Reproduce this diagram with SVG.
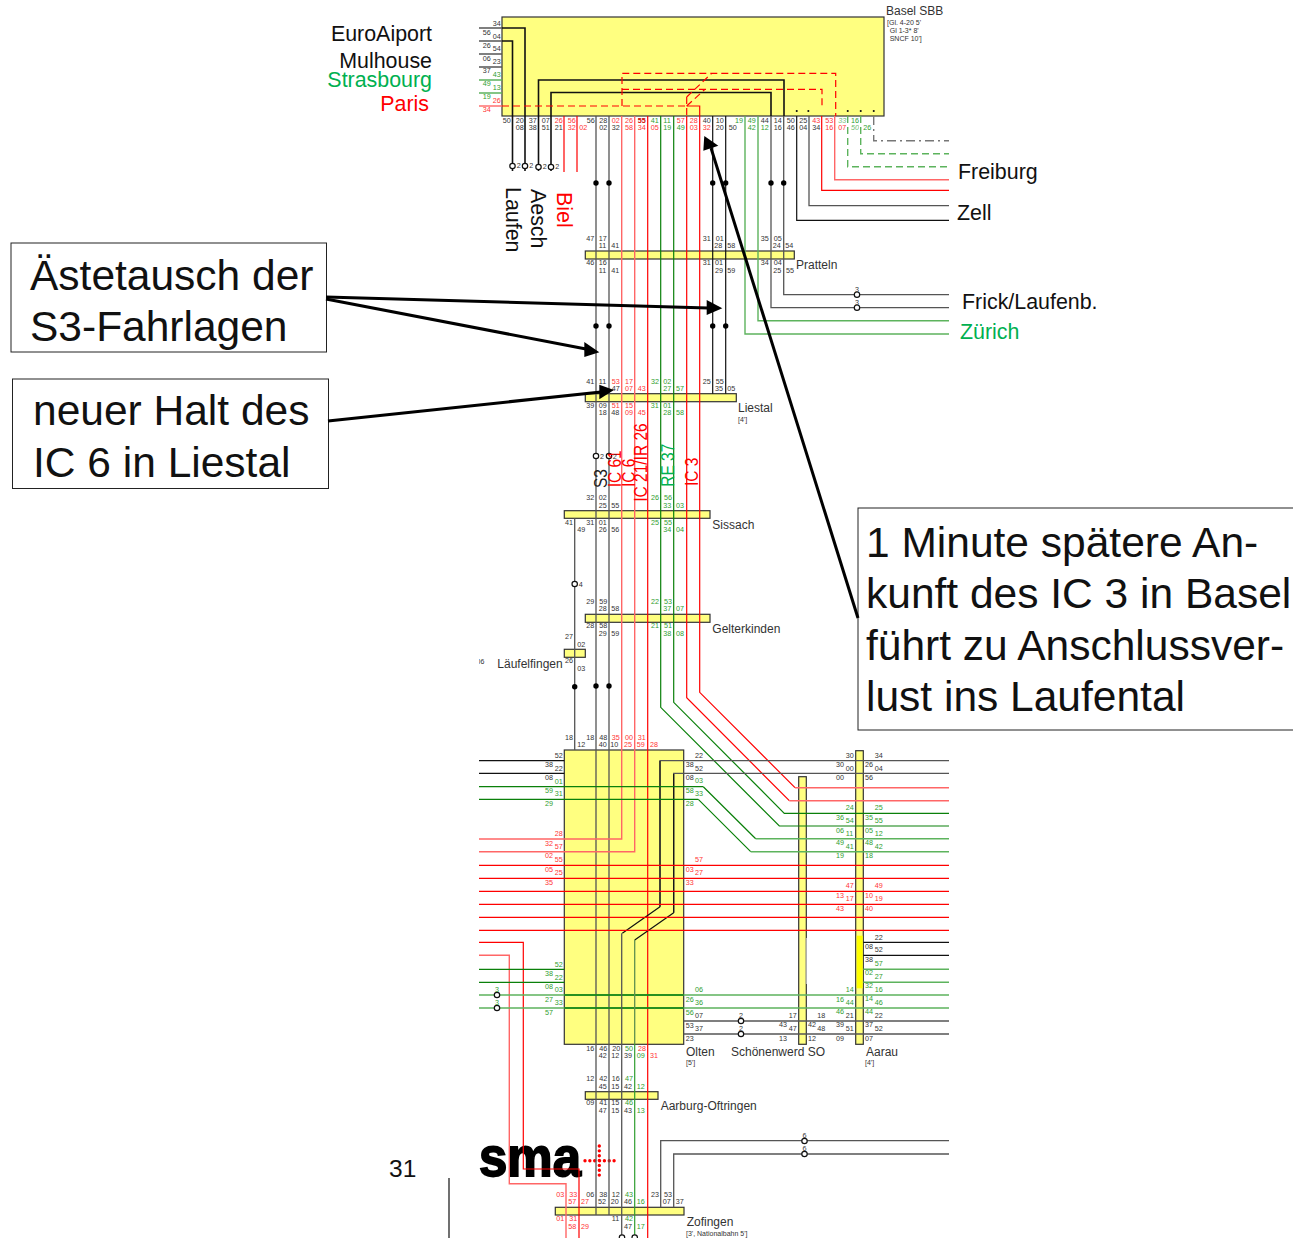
<svg xmlns="http://www.w3.org/2000/svg" width="1293" height="1238" viewBox="0 0 1293 1238">
<style>
text{font-family:"Liberation Sans",Arial,sans-serif}
.bar{fill:#ffff80;stroke:#333;stroke-width:1.2}
.st{font-size:12px;fill:#333}
.sm{font-size:7px;fill:#333}
.big{font-size:42.5px;fill:#111}
.lab{font-size:21.4px;fill:#111}
.rot{font-size:15.5px}
.call{fill:#fff;stroke:#222;stroke-width:1}
path{fill:none;stroke-width:1.2}
.k{stroke:#111}
.y{stroke:#555;stroke-width:1.3}
.r{stroke:#f00}
.rl{stroke:#ff6666;stroke-width:1.4}
.v{stroke:#0a800a}
.vl{stroke:#5db35d;stroke-width:1.4}
.rd{stroke:#f00;stroke-dasharray:7 4}
.vd{stroke:#5db35d;stroke-width:1.4;stroke-dasharray:7 4}
.yd{stroke:#777;stroke-width:1.4;stroke-dasharray:9 4 2 4}
.o{fill:#fff;stroke:#111;stroke-width:1.2}
.a{stroke:#000;stroke-width:3}
.h{fill:#000;stroke:none}
.n text{font-size:7.2px}
</style>
<defs>
<clipPath id="c06"><rect x="479" y="650" width="30" height="20"/></clipPath>
<circle id="ring" r="2.7" class="o"/>
<circle id="dot" r="2.7" fill="#000"/>
</defs>
<g id="basel"><rect class="bar" x="502" y="17" width="382" height="99"/><text class="st" x="886" y="15">Basel SBB</text><text class="sm" x="887" y="25">[Gl. 4-20 5'</text><text class="sm" x="889.7" y="33">Gl 1-3* 8'</text><text class="sm" x="889.7" y="41">SNCF 10']</text></g>
<g id="pratteln"><rect class="bar" x="585.3" y="251" width="209" height="8"/><text class="st" x="796" y="269.3">Pratteln</text></g>
<g id="liestal"><rect class="bar" x="585.3" y="393.7" width="151" height="8"/><text class="st" x="738" y="412.3">Liestal</text><text class="sm" x="738" y="422.3">[4']</text></g>
<g id="sissach"><rect class="bar" x="564.3" y="510.7" width="145.7" height="7.6"/><text class="st" x="712.3" y="529">Sissach</text></g>
<g id="gelterkinden"><rect class="bar" x="585.3" y="614.3" width="124.7" height="8"/><text class="st" x="712.3" y="632.7">Gelterkinden</text></g>
<g id="laeufelfingen"><rect class="bar" x="564.3" y="649.3" width="21" height="8"/><text class="st" x="497.3" y="668.3">Läufelfingen</text><text class="sm" clip-path="url(#c06)" x="476.5" y="664">06</text></g>
<g id="olten"><rect class="bar" x="564.3" y="750" width="119.4" height="294.3"/><text class="st" x="686" y="1055.7">Olten</text><text class="sm" x="686" y="1065">[5']</text></g>
<g id="schoenenwerd"><rect class="bar" x="798.7" y="776.7" width="7.6" height="267.6"/><path d="M806.3 938V984" style="stroke:#bbb;stroke-width:1.2"/><text class="st" x="731" y="1055.7">Schönenwerd SO</text></g>
<g id="aarau"><rect class="bar" x="855.7" y="750.7" width="7.6" height="293.6"/><rect x="856.7" y="935.7" width="6" height="52.6" fill="#ffff00"/><text class="st" x="866" y="1055.7">Aarau</text><text class="sm" x="865" y="1065">[4']</text></g>
<g id="aarburg"><rect class="bar" x="585.3" y="1091.7" width="72.7" height="7.6"/><text class="st" x="660.7" y="1110">Aarburg-Oftringen</text></g>
<g id="zofingen"><rect class="bar" x="555.3" y="1207.3" width="128.7" height="7.7"/><text class="st" x="686.7" y="1225.7">Zofingen</text><text class="sm" x="686" y="1235.7">[3', Nationalbahn 5']</text></g>
<g id="logo"><text x="479" y="1175.5" font-size="56" font-weight="700" fill="#000" stroke="#000" stroke-width="1.8" textLength="102" lengthAdjust="spacingAndGlyphs">sma</text><path d="M585 1160.7H615M599.3 1146V1176" style="stroke:#f00;stroke-width:3.4;stroke-linecap:round;stroke-dasharray:0 4.85"/></g>
<g id="labels">
<text class="lab" text-anchor="end" x="432" y="41">EuroAiport</text>
<text class="lab" text-anchor="end" x="432" y="68">Mulhouse</text>
<text class="lab" text-anchor="end" x="432" y="87" style="fill:#00b050">Strasbourg</text>
<text class="lab" text-anchor="end" x="429" y="111" style="fill:#f00">Paris</text>
<text class="lab" x="958" y="179">Freiburg</text>
<text class="lab" x="957" y="220">Zell</text>
<text class="lab" x="962" y="309">Frick/Laufenb.</text>
<text class="lab" x="960" y="339" style="fill:#00b050">Zürich</text>
<text class="lab" transform="translate(506 187) rotate(90)">Laufen</text>
<text class="lab" transform="translate(531 189) rotate(90)">Aesch</text>
<text class="lab" transform="translate(556.7 192) rotate(90)" style="fill:#f00">Biel</text>
<text x="389" y="1177" font-size="24.5" fill="#111">31</text>
</g>
<path d="M449 1178V1238" class="k"/>
<g id="connectors">
<path class="y" d="M479 28H502M479 41H502M479 54H502M479 67H502"/>
<path class="vl" d="M479 80H502M479 93H502"/>
<path class="rl" d="M479 106H502"/>
<path class="k" style="stroke-width:1.6" d="M502 28H525V171M502 41H512.5V171M538.5 171V80H784V116M551 171V92.5H771V116"/>
<path class="rd" d="M502 106H686.7M622 106V73.3H835.7V116M622 89.3H822V109M686.7 106L705 89.3M686.7 97L711.7 73.3M686.7 97V116"/>
<path class="r" d="M686.7 106H699.7V116"/>
<path d="M796.7 111h.1M808.3 111h.1M847.7 111h.1M860.7 111h.1M873.7 111h.1" style="stroke:#111;stroke-width:2;stroke-linecap:round"/>
<path class="r" d="M564 116V172M577 116V172"/>
<path class="y" d="M596 116V1215M609 116V1215M574.7 518V750"/>
<path class="k" d="M712.7 116V393.7M725.7 116V393.7"/>
<path class="rl" d="M621.7 116V839H479M634.7 116V851.7H479"/>
<path class="r" d="M647.7 116V1238"/>
<path class="v" d="M660.7 116V707.3L779.3 826H949M673.7 116V702.3L784.3 813.3H949"/>
<path class="r" d="M686.7 116V697.7L789.3 800.7"/>
<path class="r" d="M699.7 116V692.3L795 787.7"/>
<path class="rl" d="M789.3 800.7H949M795 787.7H949"/>
<path class="vl" d="M745 116V334H949M758 116V320.7H949"/>
<path class="y" d="M771 116V307.7H949M783.7 116V294.7H949"/>
<path class="k" d="M796.7 116V220.3H949"/>
<path class="y" d="M809 116V205.7H949"/>
<path class="r" d="M821.7 116V190.3H949"/>
<path class="rl" d="M834.7 116V179.7H949"/>
<path class="vd" d="M847.7 116V166.7H949M860.7 116V153.7H949"/>
<path class="yd" d="M873.7 116V140.7H949"/>
<path class="k" style="stroke-width:1.3" d="M479 760.7H564.3M479 773.3H564.3"/>
<path class="y" d="M949 760.7H660V906.7"/>
<path class="y" d="M949 773.3H673.7V912.7"/>
<path class="k" d="M660 906.7L622.3 933.3M673.7 912.7L634.7 940M660 850V906.7M673.7 850V912.7M660 761V850M673.7 774V850"/>
<path class="v" d="M479 786.7H703.3M479 799.3H698.3"/>
<path class="v" d="M703.3 786.7L755.7 838.7M698.3 799.3L750.7 851.7"/>
<path class="vl" d="M755.7 838.7H949M750.7 851.7H949"/>
<path class="r" d="M479 865.3H949M479 878.3H949M479 891.3H949M479 904.3H949M479 917.3H949M479 930.3H949"/>
<path class="r" d="M479 942.3H523.3V1169H579V1238"/>
<path class="rl" d="M479 955.3H509.3V1183.7H566V1238"/>
<path class="v" d="M479 969.3H564.3M479 982.3H564.3"/>
<path class="k" d="M863.3 942.3H949M863.3 955.3H949"/>
<path class="vl" d="M863.3 969.3H949M863.3 982.3H949"/>
<path class="vl" d="M479 995H949M479 1008H949"/>
<path class="v" style="stroke-width:1.6" d="M564.3 995H683.7M564.3 1008H683.7"/>
<path class="y" d="M683.7 1021H949M683.7 1034H949"/>
<path class="y" d="M621.7 933.3V1238"/>
<path style="stroke:#5f8f4f;stroke-width:1.3" d="M634.7 940V1044"/>
<path class="v" style="stroke:#2f9e2f" d="M634.7 1044V1238"/>
<path class="y" d="M660.7 1207.3V1140.7H949M673.7 1207.3V1154H949"/>
<use href="#ring" x="512.5" y="166"/><use href="#ring" x="525" y="166"/><use href="#ring" x="538.5" y="167"/><use href="#ring" x="551" y="167"/>
<use href="#dot" x="596" y="183"/><use href="#dot" x="609" y="183"/><use href="#dot" x="712.7" y="183"/><use href="#dot" x="725.7" y="183"/><use href="#dot" x="771" y="183"/><use href="#dot" x="783.7" y="183"/>
<use href="#dot" x="596" y="326"/><use href="#dot" x="609" y="326"/><use href="#dot" x="712.7" y="326"/><use href="#dot" x="725.7" y="326"/>
<use href="#ring" x="596" y="456"/><use href="#ring" x="609" y="456"/>
<use href="#ring" x="857" y="294.7"/><use href="#ring" x="857" y="307.7"/>
<use href="#ring" x="574.7" y="584"/>
<use href="#dot" x="574.7" y="686.7"/><use href="#dot" x="596" y="686"/><use href="#dot" x="609" y="686"/>
<use href="#ring" x="497" y="995"/><use href="#ring" x="497" y="1008"/>
<use href="#ring" x="741" y="1021"/><use href="#ring" x="741" y="1034"/>
<use href="#ring" x="804.5" y="1141"/><use href="#ring" x="804.5" y="1154"/>
<use href="#ring" x="622" y="1237.5"/><use href="#ring" x="634.7" y="1237.5"/>
</g>
<g id="train-labels">
<text class="rot" transform="translate(606.7 488) rotate(-90) scale(1 1.15)" fill="#222">S3</text>
<text class="rot" transform="translate(621 487.3) rotate(-90) scale(1 1.15)" fill="#f00">IC 61</text>
<text class="rot" transform="translate(635 487) rotate(-90) scale(1 1.15)" fill="#f00">IC 6</text>
<text class="rot" transform="translate(647.3 501.7) rotate(-90) scale(1 1.15)" fill="#f00">IC 21/IR 26</text>
<text class="rot" transform="translate(674 486.7) rotate(-90) scale(1 1.15)" fill="#00b050">RE 37</text>
<text class="rot" transform="translate(698 486) rotate(-90) scale(1 1.15)" fill="#f00">IC 3</text>
</g>
<g class="n" id="num-black" fill="#333">
<text x="492.7" y="25.7">34</text><text x="482.7" y="35">56</text><text x="492.7" y="38.5">04</text><text x="482.7" y="47.5">26</text><text x="492.7" y="51">54</text><text x="482.7" y="60.5">06</text><text x="492.7" y="64">23</text><text x="482.7" y="73">37</text>
<text x="502.7" y="122.7">50</text><text x="515.7" y="122.7">20</text><text x="528.7" y="122.7">37</text><text x="541.7" y="122.7">07</text><text x="586.7" y="122.7">56</text><text x="599.3" y="122.7">28</text><text x="702.7" y="122.7">40</text><text x="715.7" y="122.7">10</text><text x="760.7" y="122.7">44</text><text x="773.7" y="122.7">14</text><text x="786.7" y="122.7">50</text><text x="799.3" y="122.7">25</text>
<text x="515.7" y="129.7">08</text><text x="528.7" y="129.7">38</text><text x="541.7" y="129.7">51</text><text x="554.7" y="129.7">21</text><text x="599.3" y="129.7">02</text><text x="611.7" y="129.7">32</text><text x="715.7" y="129.7">20</text><text x="728.7" y="129.7">50</text><text x="773.7" y="129.7">16</text><text x="786.7" y="129.7">46</text><text x="799.3" y="129.7">04</text><text x="812.3" y="129.7">34</text>
<text x="516.7" y="167.7">2</text><text x="529.3" y="167.7">2</text><text x="542.7" y="168.7">2</text><text x="555.3" y="168.7">2</text>
<text x="586.3" y="241">47</text><text x="598.7" y="241">17</text><text x="702.7" y="241">31</text><text x="715.7" y="241">01</text><text x="760.7" y="241">35</text><text x="773.7" y="241">05</text>
<text x="598.7" y="248">11</text><text x="611.3" y="248">41</text><text x="714.3" y="248">28</text><text x="727.3" y="248">58</text><text x="772.7" y="248">24</text><text x="785.3" y="248">54</text>
<text x="586.3" y="265">46</text><text x="598.7" y="265">16</text><text x="702.7" y="265">31</text><text x="715" y="265">01</text><text x="760.7" y="265">34</text><text x="773.7" y="265">04</text>
<text x="598.7" y="272.7">11</text><text x="611.3" y="272.7">41</text><text x="715" y="272.7">29</text><text x="727.3" y="272.7">59</text><text x="773.3" y="272.7">25</text><text x="786" y="272.7">55</text>
<text x="855" y="291.5">3</text><text x="855" y="304.5">3</text>
<text x="586.3" y="383.7">41</text><text x="598.7" y="383.7">11</text><text x="702.7" y="383.7">25</text><text x="715.7" y="383.7">55</text>
<text x="611.7" y="390.7">47</text><text x="715" y="390.7">35</text><text x="727.3" y="390.7">05</text>
<text x="586.3" y="407.7">39</text><text x="598.7" y="407.7">09</text><text x="598.7" y="415">18</text><text x="611.3" y="415">48</text>
<text x="600" y="458.5">2</text><text x="612.7" y="458.5">2</text>
<text x="586.3" y="500.3">32</text><text x="598.7" y="500.3">02</text><text x="598.7" y="507.7">25</text><text x="611.3" y="507.7">55</text>
<text x="565" y="524.7">41</text><text x="586.3" y="524.7">31</text><text x="598.7" y="524.7">01</text><text x="577.3" y="532">49</text><text x="598.7" y="532">26</text><text x="611.3" y="532">56</text>
<text x="578.7" y="586.5">4</text>
<text x="586.3" y="604">29</text><text x="599.3" y="604">59</text><text x="598.7" y="611.3">28</text><text x="611.3" y="611.3">58</text>
<text x="586.3" y="628.3">28</text><text x="599.3" y="628.3">58</text><text x="598.7" y="635.7">29</text><text x="611.3" y="635.7">59</text>
<text x="565" y="639.3">27</text><text x="577.3" y="646.7">02</text><text x="565" y="663.3">26</text><text x="577.3" y="671">03</text>
<text x="565" y="740">18</text><text x="586.3" y="740">18</text><text x="599.3" y="740">48</text><text x="577.3" y="747.3">12</text><text x="598.7" y="747.3">40</text><text x="610.3" y="747.3">10</text>
<text x="554.7" y="757.7">52</text><text x="545" y="767.3">38</text><text x="554.7" y="770.7">22</text><text x="545" y="780">08</text>
<text x="695" y="757.7">22</text><text x="685.7" y="767.3">38</text><text x="695" y="770.7">52</text><text x="685.7" y="780.3">08</text>
<text x="845.7" y="757.7">30</text><text x="836" y="767.3">30</text><text x="845.7" y="771">00</text><text x="836" y="780.3">00</text>
<text x="874.7" y="757.7">34</text><text x="865" y="767.3">26</text><text x="874.7" y="771">04</text><text x="865" y="780.3">56</text>
<text x="874.7" y="939.7">22</text><text x="865" y="949">08</text><text x="874.7" y="952.3">52</text><text x="865" y="961.7">38</text>
<text x="695" y="1018">07</text><text x="685.7" y="1027.7">53</text><text x="695" y="1031">37</text><text x="685.7" y="1040.7">23</text>
<text x="739" y="1018">2</text><text x="739" y="1031">2</text>
<text x="788.7" y="1018">17</text><text x="779" y="1027">43</text><text x="788.7" y="1031">47</text><text x="779" y="1040.7">13</text>
<text x="817.3" y="1018">18</text><text x="808" y="1027">42</text><text x="817.3" y="1031">48</text><text x="808" y="1040.7">12</text>
<text x="845.7" y="1017.7">21</text><text x="836" y="1027">39</text><text x="845.7" y="1031">51</text><text x="836" y="1040.7">09</text>
<text x="874.7" y="1017.7">22</text><text x="865" y="1027">37</text><text x="874.7" y="1030.7">52</text><text x="865" y="1040.7">07</text>
<text x="586.3" y="1050.7">16</text><text x="599.3" y="1050.7">46</text><text x="612.3" y="1050.7">20</text><text x="598.7" y="1058">42</text><text x="611.3" y="1058">12</text><text x="624" y="1058">39</text>
<text x="586.3" y="1081.3">12</text><text x="599.3" y="1081.3">42</text><text x="611.7" y="1081.3">16</text><text x="598.7" y="1089">45</text><text x="611.3" y="1089">15</text><text x="624" y="1089">42</text>
<text x="586.3" y="1105.3">09</text><text x="599.3" y="1105.3">41</text><text x="611.3" y="1105.3">15</text><text x="598.7" y="1113">47</text><text x="611.3" y="1113">15</text><text x="624" y="1113">43</text>
<text x="802.5" y="1137.7">6</text><text x="802.5" y="1151">6</text>
<text x="586.3" y="1197">06</text><text x="599.3" y="1197">38</text><text x="611.7" y="1197">12</text><text x="651" y="1197">23</text><text x="664" y="1197">53</text>
<text x="598" y="1204.3">52</text><text x="610.7" y="1204.3">20</text><text x="624" y="1204.3">46</text><text x="662.7" y="1204.3">07</text><text x="675.7" y="1204.3">37</text>
<text x="611.7" y="1221.3">11</text><text x="624" y="1228.7">47</text>
</g>
<g class="n" id="num-red" fill="#f33">
<text x="492.7" y="103">26</text><text x="482.7" y="112">34</text>
<text x="554.7" y="122.7">26</text><text x="567.7" y="122.7">56</text><text x="611.7" y="122.7">02</text><text x="625" y="122.7">26</text><text x="637.7" y="122.7" fill="#c00" font-weight="700">55</text><text x="676.7" y="122.7">57</text><text x="689.7" y="122.7">28</text><text x="812.3" y="122.7">43</text><text x="825.3" y="122.7">53</text>
<text x="567.7" y="129.7">32</text><text x="579.3" y="129.7">02</text><text x="625" y="129.7">58</text><text x="637.7" y="129.7">34</text><text x="650.7" y="129.7">05</text><text x="689.7" y="129.7">03</text><text x="702.7" y="129.7">32</text><text x="825.3" y="129.7">16</text><text x="838.3" y="129.7">07</text>
<text x="611.7" y="383.7">53</text><text x="625" y="383.7">17</text><text x="625" y="390.7">07</text><text x="637.7" y="390.7">43</text>
<text x="611.7" y="407.7">51</text><text x="625" y="407.7">15</text><text x="625" y="415">09</text><text x="637.7" y="415">45</text>
<text x="611.7" y="740">35</text><text x="625" y="740">00</text><text x="637.7" y="740">31</text><text x="624" y="747.3">25</text><text x="636.7" y="747.3">59</text><text x="650" y="747.3">28</text>
<text x="554.7" y="836.3">28</text><text x="545" y="845.7">32</text><text x="554.7" y="848.7">57</text><text x="545" y="858.3">02</text><text x="554.7" y="862.3">55</text><text x="545" y="871.7">05</text><text x="554.7" y="875.3">25</text><text x="545" y="884.7">35</text>
<text x="695" y="862.3">57</text><text x="685.7" y="871.7">03</text><text x="695" y="875.3">27</text><text x="685.7" y="884.7">33</text>
<text x="845.7" y="888.3">47</text><text x="874.7" y="888.3">49</text><text x="836" y="897.7">13</text><text x="845.7" y="901.3">17</text><text x="865" y="897.7">10</text><text x="874.7" y="901.3">19</text><text x="836" y="910.7">43</text><text x="865" y="910.7">40</text>
<text x="638" y="1050.7">28</text><text x="650" y="1058">31</text>
<text x="556.3" y="1197">03</text><text x="569.3" y="1197">33</text><text x="568.3" y="1204.3">57</text><text x="581" y="1204.3">27</text>
<text x="556.3" y="1221.3">01</text><text x="569.3" y="1221.3">31</text><text x="568.3" y="1228.7">58</text><text x="581" y="1228.7">29</text>
</g>
<g class="n" id="num-green" fill="#2f9e2f">
<text x="492.7" y="77">43</text><text x="482.7" y="86">49</text><text x="492.7" y="90">13</text><text x="482.7" y="99">19</text>
<text x="650.7" y="122.7">41</text><text x="663.3" y="122.7">11</text><text x="735" y="122.7">19</text><text x="747.7" y="122.7">49</text><text x="838.3" y="122.7" font-style="italic" opacity=".7">33</text><text x="851" y="122.7">16</text>
<text x="663.3" y="129.7">19</text><text x="676.7" y="129.7">49</text><text x="747.7" y="129.7">42</text><text x="760.7" y="129.7">12</text><text x="851" y="129.7" font-style="italic" opacity=".7">50</text><text x="863.3" y="129.7">26</text>
<text x="651" y="383.7">32</text><text x="663.3" y="383.7">02</text><text x="663.3" y="390.7">27</text><text x="676" y="390.7">57</text>
<text x="650.7" y="407.7">31</text><text x="663.3" y="407.7">01</text><text x="663.3" y="415">28</text><text x="676" y="415">58</text>
<text x="651" y="500.3">26</text><text x="664" y="500.3">56</text><text x="663.3" y="507.7">33</text><text x="676" y="507.7">03</text>
<text x="651" y="524.7">25</text><text x="664" y="524.7">55</text><text x="663.3" y="532">34</text><text x="676" y="532">04</text>
<text x="651" y="604">22</text><text x="664" y="604">53</text><text x="663.3" y="611.3">37</text><text x="676" y="611.3">07</text>
<text x="651" y="628.3">21</text><text x="664" y="628.3">51</text><text x="663.3" y="635.7">38</text><text x="676" y="635.7">08</text>
<text x="554.7" y="783.7">01</text><text x="545" y="792.7">59</text><text x="554.7" y="796.3">31</text><text x="545" y="805.7">29</text>
<text x="695" y="783.3">03</text><text x="685.7" y="793">58</text><text x="695" y="796.3">33</text><text x="685.7" y="805.7">28</text>
<text x="845.7" y="810.3">24</text><text x="874.7" y="810.3">25</text><text x="836" y="819.7">36</text><text x="845.7" y="823.3">54</text><text x="865" y="819.7">35</text><text x="874.7" y="823.3">55</text><text x="836" y="832.7">06</text><text x="845.7" y="836">11</text><text x="865" y="832.7">05</text><text x="874.7" y="836">12</text><text x="836" y="845.3">49</text><text x="845.7" y="848.7">41</text><text x="865" y="845.3">48</text><text x="874.7" y="848.7">42</text><text x="836" y="858.3">19</text><text x="865" y="858.3">18</text>
<text x="554.7" y="966.7">52</text><text x="545" y="976">38</text><text x="554.7" y="979.7">22</text><text x="545" y="989">08</text><text x="554.7" y="992.3">03</text><text x="545" y="1001.7">27</text><text x="554.7" y="1005.3">33</text><text x="545" y="1014.7">57</text>
<text x="695" y="992.3">06</text><text x="685.7" y="1001.7">26</text><text x="695" y="1005.3">36</text><text x="685.7" y="1014.7">56</text>
<text x="495" y="991.5">3</text><text x="495" y="1004.5">3</text>
<text x="874.7" y="965.7">57</text><text x="865" y="975">02</text><text x="874.7" y="978.7">27</text><text x="865" y="988.3">32</text><text x="874.7" y="991.7">16</text><text x="865" y="1001">14</text><text x="874.7" y="1004.7">46</text><text x="865" y="1014">44</text>
<text x="845.7" y="992">14</text><text x="836" y="1001.7">16</text><text x="845.7" y="1005">44</text><text x="836" y="1014">46</text>
<text x="625" y="1050.7">50</text><text x="636.7" y="1058">09</text>
<text x="625" y="1081.3">47</text><text x="636.7" y="1089">12</text><text x="625" y="1105.3">46</text><text x="636.7" y="1113">13</text>
<text x="625" y="1197">43</text><text x="636.7" y="1204.3">16</text><text x="625" y="1221.3">42</text><text x="636.7" y="1228.7">17</text>
</g>
<g id="callout-s3"><rect class="call" x="11" y="243" width="315.5" height="109"/><text class="big" x="30" y="290">Ästetausch der</text><text class="big" x="30" y="341">S3-Fahrlagen</text></g>
<g id="callout-ic6"><rect class="call" x="12.5" y="379" width="316" height="109.5"/><text class="big" x="33" y="425">neuer Halt des</text><text class="big" x="33" y="477">IC 6 in Liestal</text></g>
<g id="callout-ic3"><rect class="call" x="858" y="508" width="440" height="222"/><text class="big" x="866" y="557">1 Minute spätere An-</text><text class="big" x="866" y="608">kunft des IC 3 in Basel</text><text class="big" x="866" y="660">führt zu Anschlussver-</text><text class="big" x="866" y="711">lust ins Laufental</text></g>
<g id="arrows">
<path class="a" d="M326 297L708 308"/><path class="h" d="M722.3 308.3L706.7 300V315Z"/>
<path class="a" d="M326 299L586 349"/><path class="h" d="M599.3 352.3L584.3 342V357Z"/>
<path class="a" d="M328 421L601 392"/><path class="h" d="M614 390L599.3 384.7V399.3Z"/>
<path class="a" d="M858 618L711 148"/><path class="h" d="M704.3 136L703.3 150.7L718.3 145.7Z"/>
</g>
</svg>
